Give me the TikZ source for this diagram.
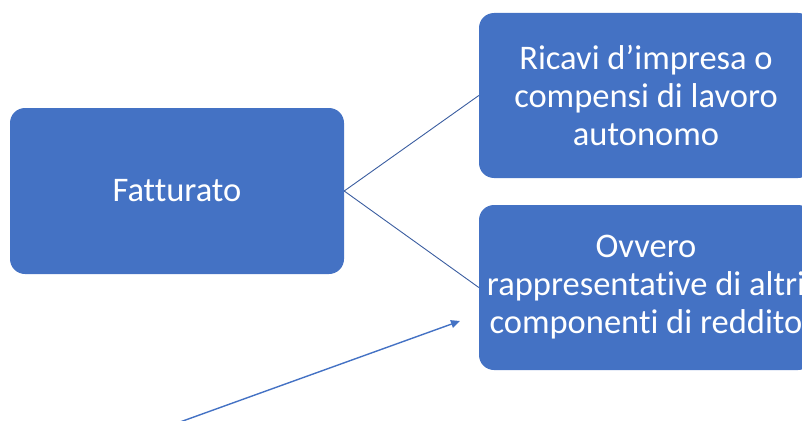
\documentclass[tikz,border=0pt]{standalone}
\usepackage{fontspec}
\setmainfont[Ligatures=NoCommon]{Carlito}
\usetikzlibrary{arrows.meta}
\definecolor{boxblue}{HTML}{4472C4}
\definecolor{linkblue}{HTML}{3A5DA0}
\begin{document}
\begin{tikzpicture}[x=1pt,y=-1pt,
  box/.style={draw=none, fill=boxblue, rounded corners=15pt, minimum width=334pt, minimum height=166pt,
    inner sep=0pt, align=center, text=white, font=\fontsize{34.5}{38}\selectfont},
  link/.style={draw=linkblue, line width=0.9pt},
  pointer/.style={draw=boxblue, line width=1.4pt, -{Triangle[length=9pt,width=8pt]}}]
\useasboundingbox (0,0) rectangle (802,420);
\node[box] (fat) at (177,191) {Fatturato};
\node[box, minimum height=165pt] (ric) at (646,95.5) {Ricavi d’impresa o\\compensi di lavoro\\autonomo};
\node[box, minimum height=165pt] (ovv) at (646,287.5) {Ovvero\\rappresentative di altri\\componenti di reddito};
\draw[link] (fat.east) -- (ric.west);
\draw[link] (fat.east) -- (ovv.west);
\coordinate (tail) at (180,422);
\coordinate (tip) at (460,321);
\draw[pointer] (tail) -- (tip);
\end{tikzpicture}
\end{document}
